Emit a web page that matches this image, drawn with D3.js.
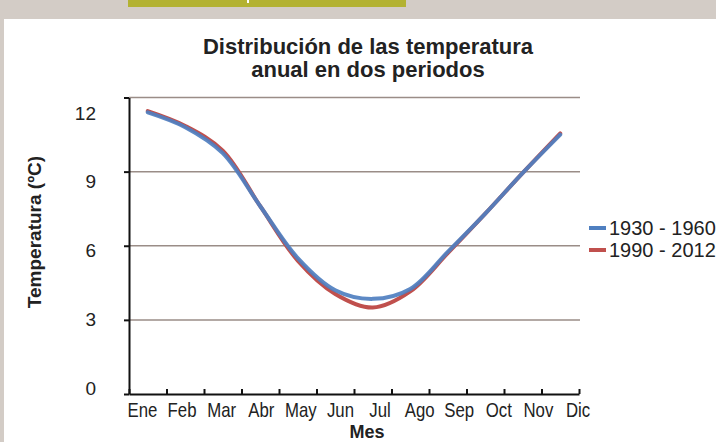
<!DOCTYPE html>
<html>
<head>
<meta charset="utf-8">
<script src="https://cdn.jsdelivr.net/npm/d3@7"></script>
<style>
  body { margin: 0; background: #d3ccc6; }
  svg { display: block; font-family: 'Liberation Sans', Arial, Helvetica, sans-serif; }
</style>
</head>
<body>
<script>
const months = ['Ene', 'Feb', 'Mar', 'Abr', 'May', 'Jun', 'Jul', 'Ago', 'Sep', 'Oct', 'Nov', 'Dic']
const temp1930 = [11.4, 10.8, 9.75, 7.6, 5.5, 4.2, 3.85, 4.25, 5.75, 7.3, 8.95, 10.5]
const temp1990 = [11.45, 10.85, 9.85, 7.6, 5.4, 4.05, 3.5, 4.15, 5.7, 7.3, 8.95, 10.55]
const seriesNames = ['1930 - 1960', '1990 - 2012']
const seriesColors = ['#4f7fc0', '#c0504d']
const yTicks = [0, 3, 6, 9, 12]

function drawChart() {
    var svg = d3.select('body')
        .append('svg')
        .attr('width', 716)
        .attr('height', 442)

    // page frame
    svg.append('rect')
        .attr('x', 4).attr('y', 19)
        .attr('width', 712).attr('height', 423)
        .attr('fill', '#ffffff')
    svg.append('rect')
        .attr('x', 128).attr('y', 0)
        .attr('width', 278).attr('height', 7)
        .attr('fill', '#b3b232')
    svg.append('rect')
        .attr('x', 247).attr('y', 0)
        .attr('width', 2).attr('height', 3)
        .attr('fill', '#ffffff')

    var x = d3.scaleBand().domain(months).range([129, 579])
    var xEdge = d3.scaleLinear().domain([0, months.length]).range([129, 579])
    var xLabel = d3.scaleBand().domain(months).range([122.7, 597.8])
    var y = d3.scaleLinear().domain([0, 12]).range([394, 97.5])
    var yLabel = d3.scaleLinear().domain([0, 12]).range([388, 113])

    // gridlines
    svg.selectAll('.grid')
        .data(yTicks.filter(function(d) { return d > 0 }))
        .enter()
        .append('line')
        .attr('x1', 129).attr('x2', 580)
        .attr('y1', function(d) { return y(d) })
        .attr('y2', function(d) { return y(d) })
        .attr('stroke', '#9a8d87')
        .attr('stroke-width', 1.5)

    var line = d3.line()
        .x(function(d, i) { return x(months[i]) + x.bandwidth() / 2 })
        .y(function(d) { return y(d) })
        .curve(d3.curveCatmullRom.alpha(0.5))

    // red under blue
    svg.append('path')
        .datum(temp1990)
        .attr('d', line)
        .attr('fill', 'none')
        .attr('stroke', seriesColors[1])
        .attr('stroke-width', 4)
        .attr('stroke-linecap', 'round')
    svg.append('path')
        .datum(temp1930)
        .attr('d', line)
        .attr('fill', 'none')
        .attr('stroke', seriesColors[0])
        .attr('stroke-width', 4)
        .attr('stroke-linecap', 'round')
        .attr('opacity', 0.92)

    // y axis
    var yAxis = svg.append('g')
        .attr('transform', 'translate(129,0)')
        .call(d3.axisLeft(y).tickValues(yTicks).tickSize(5).tickSizeOuter(0).tickFormat(''))
    yAxis.selectAll('path, line').attr('stroke', '#111').attr('stroke-width', 2)

    svg.selectAll('.ylab')
        .data(yTicks)
        .enter()
        .append('text')
        .text(function(d) { return d })
        .attr('x', 96)
        .attr('y', function(d) { return yLabel(d) })
        .attr('dy', '0.35em')
        .attr('text-anchor', 'end')
        .style('font-size', '19px')
        .attr('fill', '#222')

    // x axis
    var xAxis = svg.append('g')
        .attr('transform', 'translate(0,394)')
        .call(d3.axisBottom(xEdge).tickValues(d3.range(months.length + 1)).tickSize(-5).tickSizeOuter(0).tickFormat(''))
    xAxis.selectAll('path, line').attr('stroke', '#111').attr('stroke-width', 2)

    // month labels are a bit narrow in the original, squeeze them
    svg.selectAll('.xlab')
        .data(months)
        .enter()
        .append('text')
        .text(function(d) { return d })
        .attr('transform', function(d) {
            return 'translate(' + (xLabel(d) + xLabel.bandwidth() / 2) + ',417) scale(0.84,1)'
        })
        .attr('text-anchor', 'middle')
        .style('font-size', '20px')
        .attr('fill', '#222')

    // titles
    svg.append('text')
        .attr('x', 368).attr('y', 54)
        .attr('text-anchor', 'middle')
        .style('font-size', '22px').style('font-weight', 'bold')
        .attr('fill', '#222')
        .text('Distribución de las temperatura')
    svg.append('text')
        .attr('x', 368).attr('y', 77)
        .attr('text-anchor', 'middle')
        .style('font-size', '22px').style('font-weight', 'bold')
        .attr('fill', '#222')
        .text('anual en dos periodos')
    svg.append('text')
        .attr('x', 367).attr('y', 438)
        .attr('text-anchor', 'middle')
        .style('font-size', '18px').style('font-weight', 'bold')
        .attr('fill', '#222')
        .text('Mes')
    svg.append('text')
        .attr('transform', 'translate(41,232) rotate(-90)')
        .attr('text-anchor', 'middle')
        .style('font-size', '19px').style('font-weight', 'bold')
        .attr('fill', '#222')
        .text('Temperatura (ºC)')

    // legend
    var legend = svg.selectAll('.legend')
        .data(seriesNames)
        .enter()
        .append('g')
        .attr('transform', function(d, i) { return 'translate(589,' + (228 + i * 22) + ')' })
    legend.append('line')
        .attr('x1', 0).attr('x2', 17)
        .attr('stroke', function(d, i) { return seriesColors[i] })
        .attr('stroke-width', 4)
    legend.append('text')
        .text(function(d) { return d })
        .attr('x', 20)
        .attr('dy', '0.35em')
        .style('font-size', '20px')
        .attr('fill', '#222')
}

drawChart()
</script>
</body>
</html>
